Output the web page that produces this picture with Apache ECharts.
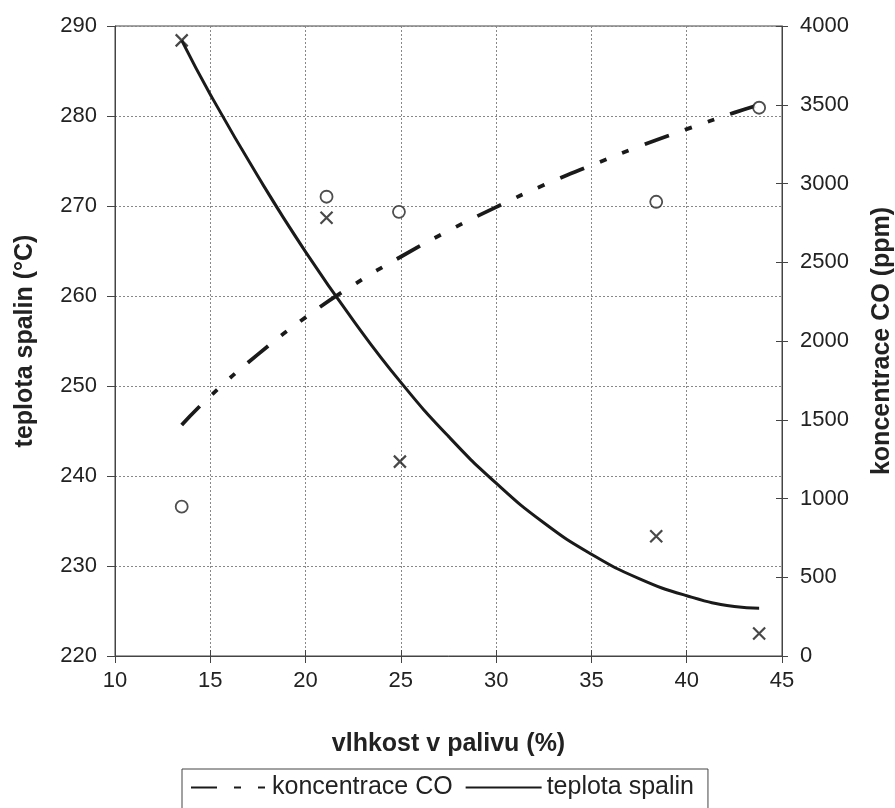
<!DOCTYPE html>
<html>
<head>
<meta charset="utf-8">
<script src="https://cdn.jsdelivr.net/npm/echarts@6/dist/echarts.min.js"></script>
<style>
html,body{margin:0;padding:0;background:#fff;}
#chart{width:895px;height:808px;}
</style>
</head>
<body>
<div id="chart"></div>
<script>
// ---- data ----
const xTicks = [10, 15, 20, 25, 30, 35, 40, 45];
const tempTicks = [220, 230, 240, 250, 260, 270, 280, 290];
const coTicks = [0, 500, 1000, 1500, 2000, 2500, 3000, 3500, 4000];

// measured points
const tempMeasX = [13.5, 21.1, 24.95, 38.4, 43.8];
const tempMeasY = [288.4, 268.7, 241.6, 233.3, 222.5];
const coMeasX = [13.5, 21.1, 24.9, 38.4, 43.8];
const coMeasY = [948, 2916, 2820, 2884, 3481];

// trend curves
const trendX = [13.5, 15, 17.5, 20, 22.5, 25, 27.5, 30, 32.5, 35, 37.5, 40, 42.5, 43.8];
const tempTrendY = [288.4, 282.4, 273.3, 264.9, 257.3, 250.4, 244.4, 239.2, 234.8, 231.3, 228.6, 226.7, 225.5, 225.3];
const coTrendY = [1467, 1650, 1915, 2150, 2355, 2535, 2700, 2850, 2990, 3115, 3235, 3345, 3450, 3500];

const seriesNames = ['koncentrace CO', 'teplota spalin'];
const axisNames = { x: 'vlhkost v palivu (%)', left: 'teplota spalin (°C)', right: 'koncentrace CO (ppm)' };

function pairs(xs, ys) { return xs.map((x, i) => [x, ys[i]]); }

const FONT = "'Liberation Sans', Arial, sans-serif";
const TXT = '#222';
const LINE = '#1a1a1a';

const chart = echarts.init(document.getElementById('chart'), null, { renderer: 'canvas' });

const option = {
  animation: false,
  backgroundColor: '#fff',
  textStyle: { fontFamily: FONT, color: TXT },
  grid: { left: 115, right: 113, top: 26, bottom: 152, outerBoundsMode: 'none', containLabel: false,
          show: true, borderColor: '#444', borderWidth: 1, backgroundColor: 'transparent' },
  legend: {
    data: seriesNames,
    left: 182, top: 769,
    orient: 'horizontal',
    itemWidth: 76, itemHeight: 4, itemGap: 12,
    padding: [6, 14, 12, 8],
    borderColor: '#444', borderWidth: 1,
    itemStyle: { color: 'rgba(0,0,0,0)', borderWidth: 0, opacity: 0 },
    textStyle: { fontFamily: FONT, fontSize: 25, color: TXT },
    selectedMode: false
  },
  xAxis: [{
    type: 'value', position: 'bottom',
    min: xTicks[0], max: xTicks[xTicks.length - 1], interval: 5,
    name: axisNames.x, nameLocation: 'middle', nameGap: 76,
    nameTextStyle: { fontFamily: FONT, fontSize: 25, fontWeight: 'bold', color: TXT },
    axisLine: { show: true, lineStyle: { color: '#444', width: 1 } },
    axisTick: { show: true, inside: false, length: 7, lineStyle: { color: '#444' } },
    axisLabel: { fontFamily: FONT, fontSize: 22, color: TXT, margin: 14 },
    splitLine: { show: true, lineStyle: { color: '#888', type: [2, 2], width: 1 } }
  }, {
    type: 'value', position: 'bottom',
    min: xTicks[0], max: xTicks[xTicks.length - 1], interval: 5,
    axisLine: { show: false },
    axisTick: { show: true, inside: true, length: 6, lineStyle: { color: '#444' } },
    axisLabel: { show: false },
    splitLine: { show: false }
  }],
  yAxis: [{
    type: 'value', position: 'left',
    min: tempTicks[0], max: tempTicks[tempTicks.length - 1], interval: 10,
    name: axisNames.left, nameLocation: 'middle', nameGap: 77,
    nameTextStyle: { fontFamily: FONT, fontSize: 25, fontWeight: 'bold', color: TXT },
    axisLine: { show: true, lineStyle: { color: '#444', width: 1 } },
    axisTick: { show: true, inside: false, length: 8, lineStyle: { color: '#444' } },
    axisLabel: { fontFamily: FONT, fontSize: 22, color: TXT, margin: 18 },
    splitLine: { show: true, lineStyle: { color: '#888', type: [2, 2], width: 1 } }
  }, {
    type: 'value', position: 'right',
    min: coTicks[0], max: coTicks[coTicks.length - 1], interval: 500,
    name: axisNames.right, nameLocation: 'middle', nameGap: 88,
    nameTextStyle: { fontFamily: FONT, fontSize: 25, fontWeight: 'bold', color: TXT },
    axisLine: { show: true, lineStyle: { color: '#444', width: 1 } },
    axisTick: { show: true, inside: false, length: 6, lineStyle: { color: '#444' } },
    axisLabel: { fontFamily: FONT, fontSize: 22, color: TXT, margin: 18, formatter: v => String(v) },
    splitLine: { show: false }
  }, {
    type: 'value', position: 'right',
    min: coTicks[0], max: coTicks[coTicks.length - 1], interval: 500,
    axisLine: { show: false },
    axisTick: { show: true, inside: true, length: 6, lineStyle: { color: '#444' } },
    axisLabel: { show: false },
    splitLine: { show: false }
  }],
  series: [{
    name: seriesNames[0], type: 'line', yAxisIndex: 1,
    data: pairs(trendX, coTrendY), smooth: true, symbol: 'none',
    lineStyle: { color: LINE, width: 3.8, type: [26, 17, 7, 17, 7, 17] },
    itemStyle: { color: LINE }, z: 3
  }, {
    name: seriesNames[1], type: 'line', yAxisIndex: 0,
    data: pairs(trendX, tempTrendY), smooth: true, symbol: 'none',
    lineStyle: { color: LINE, width: 3, type: 'solid' },
    itemStyle: { color: LINE }, z: 3
  }, {
    name: 'CO měření', type: 'scatter', yAxisIndex: 1,
    data: pairs(coMeasX, coMeasY), symbol: 'circle', symbolSize: 12,
    itemStyle: { color: '#fff', borderColor: '#222', borderWidth: 1.8 }, z: 4
  }, {
    name: 'teplota měření', type: 'scatter', yAxisIndex: 0,
    data: pairs(tempMeasX, tempMeasY), symbol: 'path://M0,0L10,10M10,0L0,10', symbolSize: 12,
    itemStyle: { color: 'none', borderColor: '#1a1a1a', borderWidth: 2.2 }, z: 4
  }]
};
chart.setOption(option);
</script>
</body>
</html>
